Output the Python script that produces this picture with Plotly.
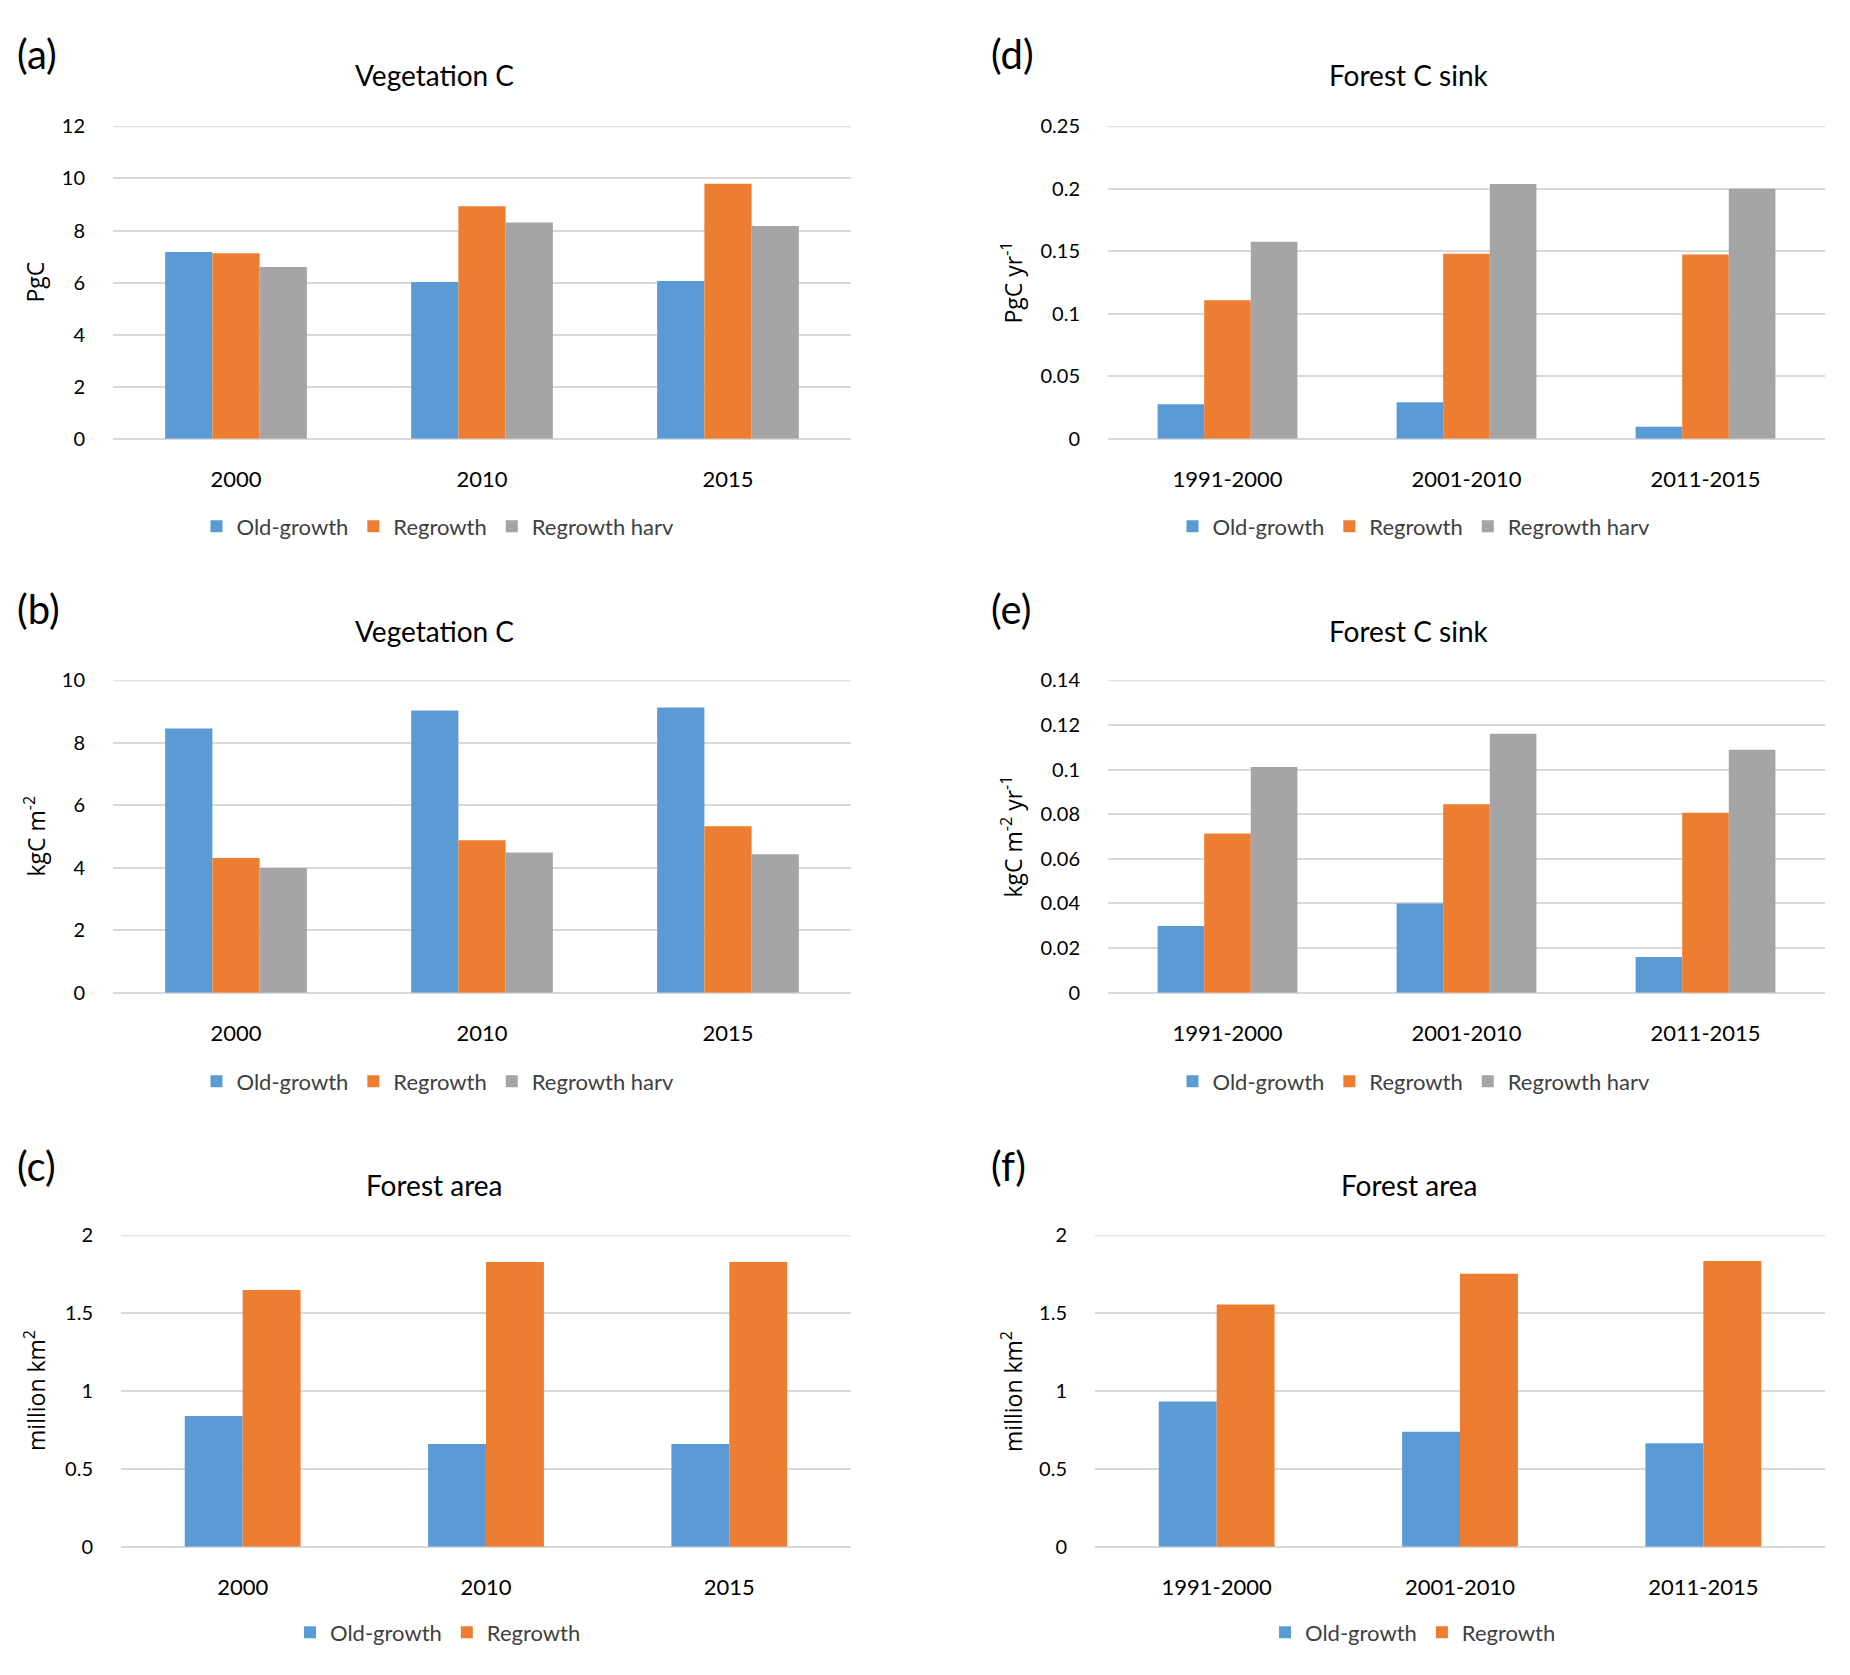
import plotly.graph_objects as go

W, H = 1850, 1675

years = ["2000", "2010", "2015"]
periods = ["1991-2000", "2001-2010", "2011-2015"]
series_names = ["Old-growth", "Regrowth", "Regrowth harv"]

veg_c_total_old = [7.17, 6.02, 6.06]
veg_c_total_reg = [7.13, 8.93, 9.80]
veg_c_total_harv = [6.60, 8.31, 8.17]

veg_c_dens_old = [8.46, 9.03, 9.13]
veg_c_dens_reg = [4.31, 4.88, 5.33]
veg_c_dens_harv = [3.99, 4.49, 4.43]

area_year_old = [0.84, 0.66, 0.66]
area_year_reg = [1.648, 1.828, 1.828]

sink_total_old = [0.0276, 0.0293, 0.0096]
sink_total_reg = [0.1108, 0.148, 0.1474]
sink_total_harv = [0.1576, 0.2038, 0.2001]

sink_dens_old = [0.0299, 0.0400, 0.0160]
sink_dens_reg = [0.0714, 0.0845, 0.0807]
sink_dens_harv = [0.1011, 0.1161, 0.1089]

area_period_old = [0.933, 0.738, 0.664]
area_period_reg = [1.555, 1.752, 1.834]

COLORS = ["#5B9BD5", "#ED7D31", "#A5A5A5"]
GRID = "#D9D9D9"
FONT = "Lato"
YFONT = "Open Sans"

ROW_Y = [(115, 432), (677, 994), (1240, 1556)]
TITLE_Y = [63, 627, 1189]
LABEL_Y = [42, 605, 1170]
LEGEND_Y = [521, 1084, 1643]

panels = [
    dict(key="a", x=(113, 851), row=0, cats=years,
         data=[veg_c_total_old, veg_c_total_reg, veg_c_total_harv],
         rng=[0, 12], dtick=2, title="Vegetation C", ytitle="PgC",
         ytx=35, tcx=434, labx=15, legx=438, bw=0.192),
    dict(key="b", x=(113, 851), row=1, cats=years,
         data=[veg_c_dens_old, veg_c_dens_reg, veg_c_dens_harv],
         rng=[0, 10], dtick=2, title="Vegetation C", ytitle="kgC m<sup>-2</sup>",
         ytx=35, tcx=434, labx=15, legx=438, bw=0.192),
    dict(key="c", x=(121, 851), row=2, cats=years,
         data=[area_year_old, area_year_reg],
         rng=[0, 2], dtick=0.5, title="Forest area", ytitle="million km<sup>2</sup>",
         ytx=35, tcx=434, labx=15, legx=438, bw=0.238),
    dict(key="d", x=(1108, 1825), row=0, cats=periods,
         data=[sink_total_old, sink_total_reg, sink_total_harv],
         rng=[0, 0.25], dtick=0.05, title="Forest C sink", ytitle="PgC yr<sup>-1</sup>",
         ytx=1012, tcx=1409, labx=989, legx=1414, bw=0.195),
    dict(key="e", x=(1108, 1825), row=1, cats=periods,
         data=[sink_dens_old, sink_dens_reg, sink_dens_harv],
         rng=[0, 0.14], dtick=0.02, title="Forest C sink",
         ytitle="kgC m<sup>-2</sup> yr<sup>-1</sup>",
         ytx=1012, tcx=1409, labx=989, legx=1414, bw=0.195),
    dict(key="f", x=(1095, 1825), row=2, cats=periods,
         data=[area_period_old, area_period_reg],
         rng=[0, 2], dtick=0.5, title="Forest area", ytitle="million km<sup>2</sup>",
         ytx=1012, tcx=1409, labx=989, legx=1413, bw=0.238),
]

fig = go.Figure()
layout = dict(width=W, height=H, margin=dict(l=0, r=0, t=0, b=0),
              paper_bgcolor="white", plot_bgcolor="white",
              barmode="group", font=dict(family=FONT, color="#404040"))
annotations = []
shapes = []

for i, p in enumerate(panels, start=1):
    sfx = "" if i == 1 else str(i)
    xa, ya = "x" + sfx, "y" + sfx
    lg = "legend" + sfx
    n = len(p["data"])
    bw = p["bw"]
    for j, vals in enumerate(p["data"]):
        off = -n * bw / 2 + j * bw
        fig.add_trace(go.Bar(
            x=p["cats"], y=vals, name=series_names[j],
            marker=dict(color=COLORS[j], line=dict(width=0)),
            width=bw, offset=off, xaxis=xa, yaxis=ya, legend=lg,
            showlegend=True))
    x0, x1 = p["x"]
    yt, yb = ROW_Y[p["row"]]
    layout["xaxis" + sfx] = dict(
        domain=[x0 / W, x1 / W], anchor=ya, type="category",
        range=[-0.5, len(p["cats"]) - 0.5], showgrid=False, showline=False,
        zeroline=False, ticks="outside", ticklen=21, tickcolor="rgba(0,0,0,0)",
        tickfont=dict(family=FONT, size=22, color="#000000"), fixedrange=True)
    layout["yaxis" + sfx] = dict(
        domain=[1 - yb / H, 1 - yt / H], anchor=xa, range=p["rng"], dtick=p["dtick"],
        showgrid=True, gridcolor=GRID, gridwidth=2, zeroline=True,
        zerolinecolor=GRID, zerolinewidth=2, showline=False,
        ticks="outside", ticklen=23, tickcolor="rgba(0,0,0,0)",
        tickfont=dict(family=FONT, size=20, color="#000000"), fixedrange=True)
    shapes.append(dict(
        type="line", xref=xa + " domain", yref=ya, x0=0, x1=1,
        y0=p["rng"][1], y1=p["rng"][1], layer="below",
        line=dict(color=GRID, width=2)))
    layout[lg] = dict(
        orientation="h", x=p["legx"] / W, y=1 - LEGEND_Y[p["row"]] / H,
        xanchor="center", yanchor="middle", xref="paper", yref="paper",
        font=dict(family=FONT, size=22, color="#404040"),
        itemwidth=30, bgcolor="rgba(0,0,0,0)", tracegroupgap=0)
    annotations.append(dict(
        text=p["title"], x=p["tcx"] / W, y=1 - TITLE_Y[p["row"]] / H,
        xref="paper", yref="paper", xanchor="center", yanchor="middle",
        showarrow=False, font=dict(family=FONT, size=28, color="#000000")))
    annotations.append(dict(
        text="(" + p["key"] + ")", x=p["labx"] / W, y=1 - LABEL_Y[p["row"]] / H,
        xref="paper", yref="paper", xanchor="left", yanchor="middle",
        showarrow=False, font=dict(family=FONT, size=40, color="#000000")))
    annotations.append(dict(
        text=p["ytitle"], x=p["ytx"] / W, y=1 - (yt + yb) / 2 / H,
        xref="paper", yref="paper", xanchor="center", yanchor="middle",
        textangle=-90, showarrow=False,
        font=dict(family=YFONT, size=23, color="#000000")))

layout["annotations"] = annotations
layout["shapes"] = shapes
fig.update_layout(**layout)
fig.write_html("out.html", config={"displayModeBar": False},
               post_script="document.body.style.margin='0px';")
